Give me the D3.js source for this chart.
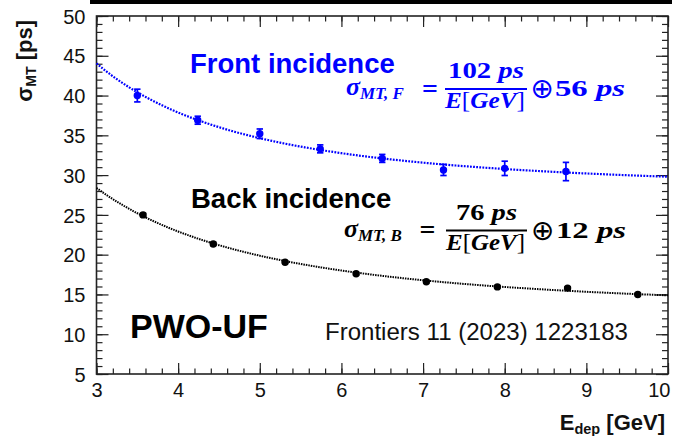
<!DOCTYPE html>
<html>
<head>
<meta charset="utf-8">
<script src="https://cdn.jsdelivr.net/npm/d3@7"></script>
<style>
  html, body { margin: 0; padding: 0; background: #fff; }
  svg { display: block; }
  .sans { font-family: "Liberation Sans", Arial, Helvetica, sans-serif; }
  .math { font-family: "Liberation Serif", "DejaVu Serif", serif; font-weight: bold; }
</style>
</head>
<body>
<svg id="chart" width="679" height="436"></svg>
<script>
// Measured timing resolution vs. deposited energy, front and back incidence
const frontEnergy = [3.5, 4.24, 5.0, 5.74, 6.5, 7.25, 8.0, 8.75];
const frontSigma  = [40.0, 36.9, 35.2, 33.3, 32.1, 30.65, 30.85, 30.45];
const frontError  = [0.8, 0.5, 0.6, 0.5, 0.5, 0.7, 0.9, 1.15];

const backEnergy = [3.57, 4.43, 5.31, 6.18, 7.04, 7.91, 8.77, 9.63];
const backSigma  = [25.0, 21.35, 19.05, 17.6, 16.6, 15.95, 15.8, 15.0];
const backError  = [0.2, 0.2, 0.15, 0.15, 0.15, 0.15, 0.15, 0.15];

// Fitted curve parameters: sigma(E) = a/E (+) c, added in quadrature
const fitStochastic = [102, 76];
const fitConstant   = [28, 12.8];

const xTicks = [3, 4, 5, 6, 7, 8, 9, 10];
const yTicks = [5, 10, 15, 20, 25, 30, 35, 40, 45, 50];

const svg = d3.select("#chart");
const L = 96.5, R = 668, T = 16, B = 374;

const x = d3.scaleLinear().domain([3, 10]).range([L, R]);
const y = d3.scaleLinear().domain([5, 50]).range([B, T]);

const BLUE = "#0000ff";
const FRAME = "#222";

// Strip across the top edge
svg.append("rect").attr("x", 90).attr("y", 0).attr("width", 582).attr("height", 4).attr("fill", "#000");

// ---------- axes with inward ticks (major + minor) ----------
const xMinor = d3.range(3, 10.001, 0.2).map(v => +v.toFixed(1));
const yMinor = d3.range(5, 50.001, 1);

function styleAxis(g) {
  g.select(".domain").remove();
  g.selectAll("line").attr("stroke", FRAME).attr("stroke-width", 1.2);
}

// bottom
svg.append("g").attr("transform", `translate(0,${B})`)
  .call(d3.axisBottom(x).tickValues(xMinor).tickSize(-5.5).tickFormat(""))
  .call(styleAxis);
const xAxisG = svg.append("g").attr("transform", `translate(0,${B})`)
  .call(d3.axisBottom(x).tickValues(xTicks).tickSize(-11).tickPadding(9).tickFormat(d3.format("d")))
  .call(styleAxis);
xAxisG.selectAll("text").attr("class", "sans").attr("font-size", 20).attr("fill", "#111");
xAxisG.selectAll(".tick").filter(d => d === 10).select("text")
  .attr("text-anchor", "end").attr("x", 2);

// top (mirror)
svg.append("g").attr("transform", `translate(0,${T})`)
  .call(d3.axisTop(x).tickValues(xMinor).tickSize(-5.5).tickFormat(""))
  .call(styleAxis);
svg.append("g").attr("transform", `translate(0,${T})`)
  .call(d3.axisTop(x).tickValues(xTicks).tickSize(-11).tickFormat(""))
  .call(styleAxis);

// left
svg.append("g").attr("transform", `translate(${L},0)`)
  .call(d3.axisLeft(y).tickValues(yMinor).tickSize(-6).tickFormat(""))
  .call(styleAxis);
const yAxisG = svg.append("g").attr("transform", `translate(${L},0)`)
  .call(d3.axisLeft(y).tickValues(yTicks).tickSize(-12).tickPadding(11).tickFormat(d3.format("d")))
  .call(styleAxis);
yAxisG.selectAll("text").attr("class", "sans").attr("font-size", 20).attr("fill", "#111").attr("dy", "0.36em");

// right (mirror)
svg.append("g").attr("transform", `translate(${R},0)`)
  .call(d3.axisRight(y).tickValues(yMinor).tickSize(-6).tickFormat(""))
  .call(styleAxis);
svg.append("g").attr("transform", `translate(${R},0)`)
  .call(d3.axisRight(y).tickValues(yTicks).tickSize(-12).tickFormat(""))
  .call(styleAxis);

// frame
svg.append("rect").attr("x", L).attr("y", T).attr("width", R - L).attr("height", B - T)
  .attr("fill", "none").attr("stroke", FRAME).attr("stroke-width", 1.6);

// ---------- axis titles ----------
const yTitle = svg.append("text").attr("class", "sans")
  .attr("transform", `translate(32,20) rotate(-90)`)
  .attr("text-anchor", "end").attr("font-weight", "bold").attr("font-size", 22).attr("fill", "#111");
yTitle.append("tspan").text("σ");
yTitle.append("tspan").attr("font-size", 14).attr("dy", 4).text("MT");
yTitle.append("tspan").attr("dy", -4).text(" [ps]");

const xTitle = svg.append("text").attr("class", "sans")
  .attr("x", 665).attr("y", 430).attr("text-anchor", "end")
  .attr("font-weight", "bold").attr("font-size", 22).attr("fill", "#111");
xTitle.append("tspan").text("E");
xTitle.append("tspan").attr("font-size", 14.5).attr("dy", 4).text("dep");
xTitle.append("tspan").attr("dy", -4).text(" [GeV]");

// ---------- fit curves ----------
const eGrid = d3.range(3, 10.0001, 0.05);
const fitLine = d3.line().x(d => x(d[0])).y(d => y(d[1]));
function fitPoints(i) {
  return eGrid.map(e => [e, Math.hypot(fitStochastic[i] / e, fitConstant[i])]);
}
svg.append("path").datum(fitPoints(0)).attr("d", fitLine)
  .attr("fill", "none").attr("stroke", BLUE).attr("stroke-width", 2.2).attr("stroke-dasharray", "1.8,1.3");
svg.append("path").datum(fitPoints(1)).attr("d", fitLine)
  .attr("fill", "none").attr("stroke", "#000").attr("stroke-width", 2).attr("stroke-dasharray", "1.5,1");

// ---------- data points with error bars ----------
function drawSeries(E, S, Err, color) {
  const g = svg.append("g");
  const pts = E.map((e, i) => ({ e, s: S[i], err: Err[i] }));
  const bars = g.selectAll(".eb").data(pts).enter().append("g");
  bars.append("line")
    .attr("x1", d => x(d.e)).attr("x2", d => x(d.e))
    .attr("y1", d => y(d.s + d.err)).attr("y2", d => y(d.s - d.err))
    .attr("stroke", color).attr("stroke-width", 1.7);
  [1, -1].forEach(sg => {
    bars.append("line")
      .attr("x1", d => x(d.e) - 3.2).attr("x2", d => x(d.e) + 3.2)
      .attr("y1", d => y(d.s + sg * d.err)).attr("y2", d => y(d.s + sg * d.err))
      .attr("stroke", color).attr("stroke-width", 1.7);
  });
  g.selectAll("circle").data(pts).enter().append("circle")
    .attr("cx", d => x(d.e)).attr("cy", d => y(d.s)).attr("r", 3.7).attr("fill", color);
}
drawSeries(frontEnergy, frontSigma, frontError, BLUE);
drawSeries(backEnergy, backSigma, backError, "#000");

// ---------- annotations ----------
svg.append("text").attr("class", "sans").attr("x", 190).attr("y", 73)
  .attr("font-weight", "bold").attr("font-size", 27.5).attr("fill", BLUE).text("Front incidence");
svg.append("text").attr("class", "sans").attr("x", 191).attr("y", 208)
  .attr("font-weight", "bold").attr("font-size", 27.5).attr("fill", "#000").text("Back incidence");
svg.append("text").attr("class", "sans").attr("x", 130).attr("y", 338)
  .attr("font-weight", "bold").attr("font-size", 34).attr("fill", "#000").text("PWO-UF");
svg.append("text").attr("class", "sans").attr("x", 325).attr("y", 340)
  .attr("font-size", 23).attr("fill", "#111")
  .attr("textLength", 303).attr("lengthAdjust", "spacingAndGlyphs").text("Frontiers 11 (2023) 1223183");

// Resolution formulas
function formula(o) {
  const g = svg.append("g").attr("fill", o.color);
  const by = o.barY;
  // sigma with its subscript
  const s = g.append("text").attr("class", "math").attr("x", o.sigmaX).attr("y", by + 6)
    .attr("font-style", "italic");
  s.append("tspan").attr("font-size", 26).text("σ");
  s.append("tspan").attr("x", o.sub[0]).attr("dy", 4).attr("font-size", 17).text(o.subText);
  g.append("text").attr("class", "math").attr("x", (o.eq[0] + o.eq[1]) / 2).attr("y", by + 8.5)
    .attr("text-anchor", "middle").attr("font-weight", "normal").attr("font-size", 28).text("=");
  // numerator
  const num = g.append("text").attr("class", "math").attr("x", o.num[0]).attr("y", by - 11)
    .attr("font-size", 23.5).attr("textLength", o.num[1] - o.num[0]).attr("lengthAdjust", "spacingAndGlyphs");
  num.append("tspan").text(o.numText + " ");
  num.append("tspan").attr("font-style", "italic").text("ps");
  // fraction bar
  g.append("line").attr("x1", o.bar[0]).attr("x2", o.bar[1]).attr("y1", by).attr("y2", by)
    .attr("stroke", o.color).attr("stroke-width", 1.8);
  // denominator
  const den = g.append("text").attr("class", "math").attr("x", o.den[0]).attr("y", by + 19)
    .attr("font-size", 23.5).attr("textLength", o.den[1] - o.den[0]).attr("lengthAdjust", "spacingAndGlyphs");
  den.append("tspan").attr("font-style", "italic").text("E");
  den.append("tspan").attr("font-weight", "normal").text("[");
  den.append("tspan").attr("font-style", "italic").text("GeV");
  den.append("tspan").attr("font-weight", "normal").text("]");
  // quadrature sum sign
  g.append("text").attr("x", (o.oplus[0] + o.oplus[1]) / 2).attr("y", by + 9)
    .attr("text-anchor", "middle").attr("font-family", "DejaVu Sans, sans-serif").attr("font-size", 28)
    .text("⊕");
  // constant term
  const c = g.append("text").attr("class", "math").attr("x", o.cst[0]).attr("y", by + 7)
    .attr("font-size", 24).attr("textLength", o.cst[1] - o.cst[0]).attr("lengthAdjust", "spacingAndGlyphs");
  c.append("tspan").text(o.cstText + " ");
  c.append("tspan").attr("font-style", "italic").text("ps");
}

formula({
  color: BLUE, barY: 89, sigmaX: 346, subText: "MT, F", sub: [360, 407], eq: [421, 439],
  numText: "102", num: [448, 524], bar: [445, 527], den: [445, 525], oplus: [533, 551],
  cstText: "56", cst: [555, 625]
});
formula({
  color: "#000", barY: 230.5, sigmaX: 344, subText: "MT, B", sub: [358, 405], eq: [418, 437],
  numText: "76", num: [456, 517], bar: [446, 527], den: [446, 525], oplus: [534, 551],
  cstText: "12", cst: [556, 626]
});
</script>
</body>
</html>
